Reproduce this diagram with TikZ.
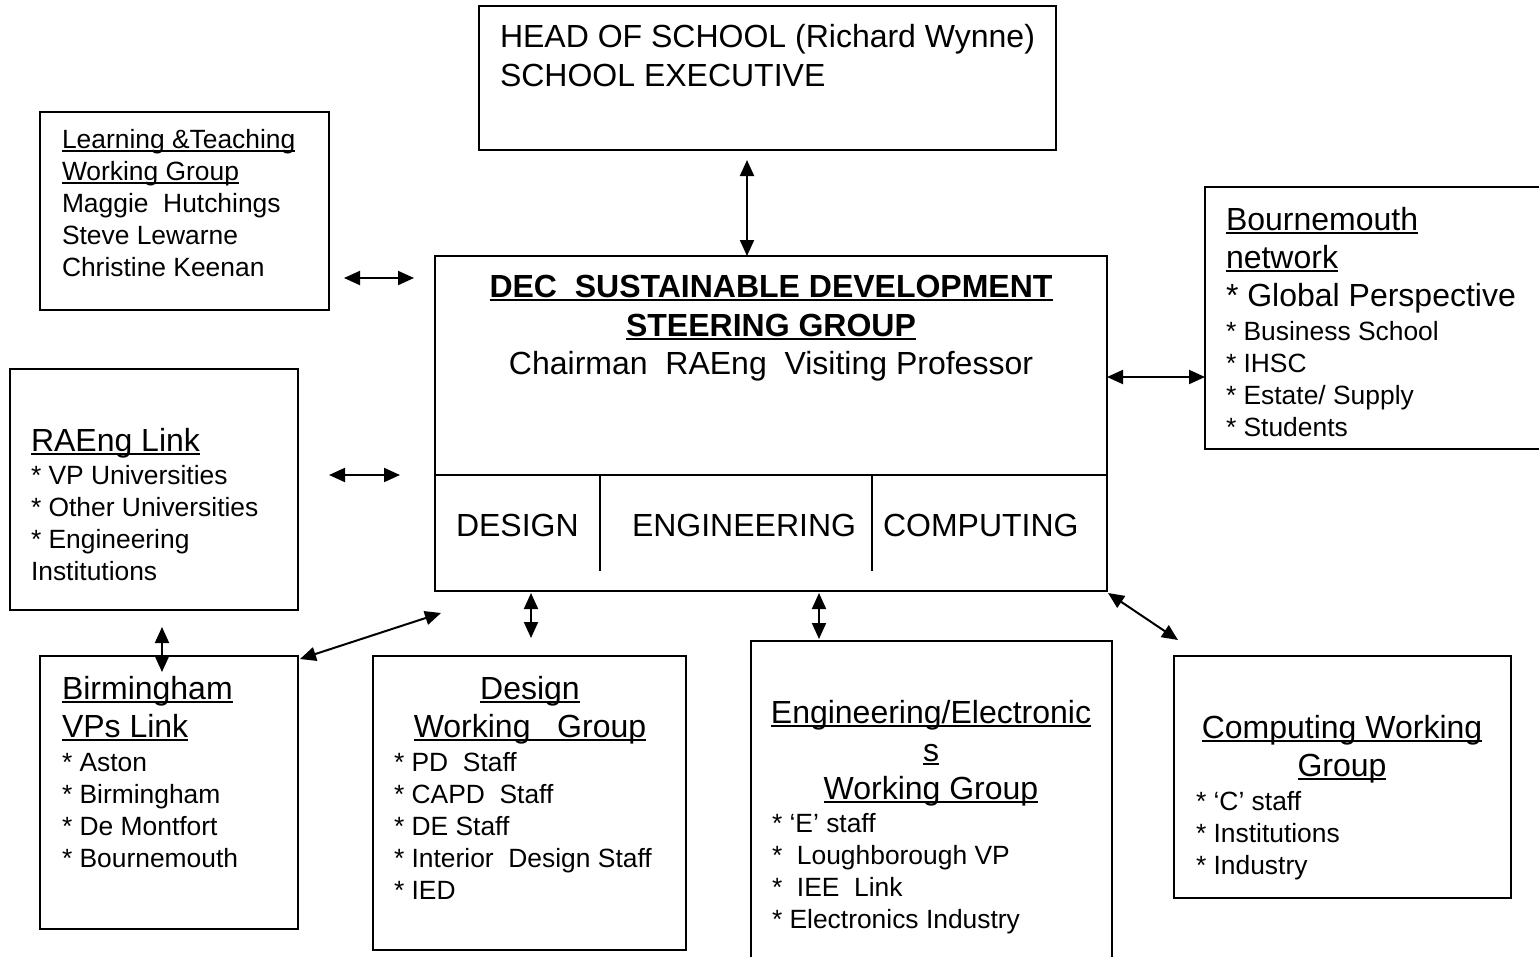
\documentclass[tikz,border=0pt]{standalone}
\usepackage{fontspec}
\setmainfont{Liberation Sans}
\usetikzlibrary{arrows.meta,calc}
\newcommand\fA{\fontsize{32}{38}\selectfont}
\newcommand\fB{\fontsize{26.4}{32}\selectfont}
\newcommand\ulx[1]{\setbox0\hbox{#1}\rlap{\rule[-0.14em]{\wd0}{0.07em}}\box0}
\newcommand\LA[2]{\baselineskip=#1pt\hbox{\fA #2}}
\newcommand\LB[2]{\baselineskip=#1pt\hbox{\fB #2}}
\newcommand\CA[2]{\baselineskip=#1pt\hbox to 0pt{\hss\fA #2\hss}}
\begin{document}
\begin{tikzpicture}[x=1pt,y=-1pt,
  box/.style={draw, line width=2pt, inner sep=0pt, outer sep=0pt, anchor=north west},
  txt/.style={inner sep=0pt, outer sep=0pt, anchor=base west},
  ctxt/.style={inner sep=0pt, outer sep=0pt, anchor=base},
  arr/.style={line width=2pt, {Triangle[length=16pt,width=14pt]}-{Triangle[length=16pt,width=14pt]}}]
\useasboundingbox (0,0) rectangle (1539,956);
\clip (0,0) rectangle (1539,956);
\fill[white] (0,0) rectangle (1539,956);

% boxes
\node[box, minimum width=577pt, minimum height=144pt] (head) at (479,6) {};
\node[box, minimum width=289pt, minimum height=198pt] (lt) at (40,112) {};
\node[box, minimum width=672pt, minimum height=335pt] (dec) at (435,256) {};
\node[box, minimum width=360pt, minimum height=262pt] (bm) at (1205,187) {};
\node[box, minimum width=288pt, minimum height=241pt] (rae) at (10,369) {};
\node[box, minimum width=258pt, minimum height=273pt] (bir) at (40,656) {};
\node[box, minimum width=313pt, minimum height=294pt] (des) at (373,656) {};
\node[box, minimum width=361pt, minimum height=340pt] (eng) at (751,641) {};
\node[box, minimum width=337pt, minimum height=242pt] (com) at (1174,656) {};

% dividers in steering group box
\draw[line width=2pt] (dec.west |- 0,475) -- (dec.east |- 0,475);
\draw[line width=1.5pt] (600,475) -- (600,571) (872,475) -- (872,571);

% texts
\node[txt] (headt) at (500,47) {\vtop{\LA{0}{HEAD OF SCHOOL (Richard Wynne)}\LA{39.5}{SCHOOL EXECUTIVE}}};
\node[txt] (ltt) at (62,148) {\vtop{\LB{0}{\ulx{Learning \&Teaching}}\LB{32}{\ulx{Working Group}}\LB{32}{Maggie\ \ Hutchings}\LB{32}{Steve Lewarne}\LB{32}{Christine Keenan}}};
\node[ctxt] (dect) at (771,297) {\vtop{\CA{0}{\bfseries\ulx{DEC\ \ SUSTAINABLE DEVELOPMENT}}\CA{39}{\bfseries\ulx{STEERING GROUP}}\CA{38}{Chairman\ \ RAEng\ \ Visiting Professor}}};
\node[txt] (sd) at (456,536) {\fA DESIGN};
\node[txt] (se) at (632,536) {\fA ENGINEERING};
\node[txt] (sc) at (883,536) {\fA COMPUTING};
\node[txt] (bmt) at (1226,230) {\vtop{\LA{0}{\ulx{Bournemouth}}\LA{38}{\ulx{network}}\LA{38}{* Global Perspective}\LB{34}{* Business School}\LB{32}{* IHSC}\LB{32}{* Estate/ Supply}\LB{32}{* Students}}};
\node[txt] (raet) at (31,451) {\vtop{\LA{0}{\ulx{RAEng Link}}\LB{33}{* VP Universities}\LB{32}{* Other Universities}\LB{32}{* Engineering}\LB{32}{Institutions}}};
\node[txt] (birt) at (62,699) {\vtop{\LA{0}{\ulx{Birmingham}}\LA{38}{\ulx{VPs Link}}\LB{34}{* Aston}\LB{32}{* Birmingham}\LB{32}{* De Montfort}\LB{32}{* Bournemouth}}};
\node[ctxt] (dest) at (530,699) {\vtop{\CA{0}{\ulx{Design}}\CA{38}{\ulx{Working\ \ \ Group}}}};
\node[txt] (desi) at (394,771) {\vtop{\LB{0}{* PD\ \ Staff}\LB{32}{* CAPD\ \ Staff}\LB{32}{* DE Staff}\LB{32}{* Interior\ \ Design Staff}\LB{32}{* IED}}};
\node[ctxt] (engt) at (931,723) {\vtop{\CA{0}{\ulx{Engineering/Electronic}}\CA{38}{\ulx{s}}\CA{38}{\ulx{Working Group}}}};
\node[txt] (engi) at (772,832) {\vtop{\LB{0}{* ‘E’ staff}\LB{32}{*\ \ Loughborough VP}\LB{32}{*\ \ IEE\ \ Link}\LB{32}{* Electronics Industry}}};
\node[ctxt] (comt) at (1342,738) {\vtop{\CA{0}{\ulx{Computing Working}}\CA{38}{\ulx{Group}}}};
\node[txt] (comi) at (1196,810) {\vtop{\LB{0}{* ‘C’ staff}\LB{32}{* Institutions}\LB{32}{* Industry}}};

% connectors
\draw[arr, shorten <=10pt] (head.south -| 747,0) -- (dec.north -| 747,0);
\draw[arr, shorten <=15pt, shorten >=21pt] (lt.east |- 0,278) -- (dec.west |- 0,278);
\draw[arr, shorten <=31pt, shorten >=35pt] (rae.east |- 0,475) -- (dec.west |- 0,475);
\draw[arr] (dec.east |- 0,377) -- (bm.west |- 0,377);
\draw[arr, shorten <=17pt, shorten >=-16pt] (rae.south -| 162,0) -- (bir.north -| 162,0);
\coordinate (dA) at ($(dec.south west)+(6,22)$);
\draw[arr] ([shift={(2,3)}]bir.north east) -- (dA);
\draw[arr, shorten <=2pt, shorten >=18pt] (dec.south -| 531,0) -- (des.north -| 531,0);
\draw[arr, shorten <=2pt, shorten >=2pt] (dec.south -| 819,0) -- (eng.north -| 819,0);
\coordinate (cA) at ($(com.north west)+(4,-16)$);
\draw[arr] ([shift={(1,2)}]dec.south east) -- (cA);
\end{tikzpicture}
\end{document}
